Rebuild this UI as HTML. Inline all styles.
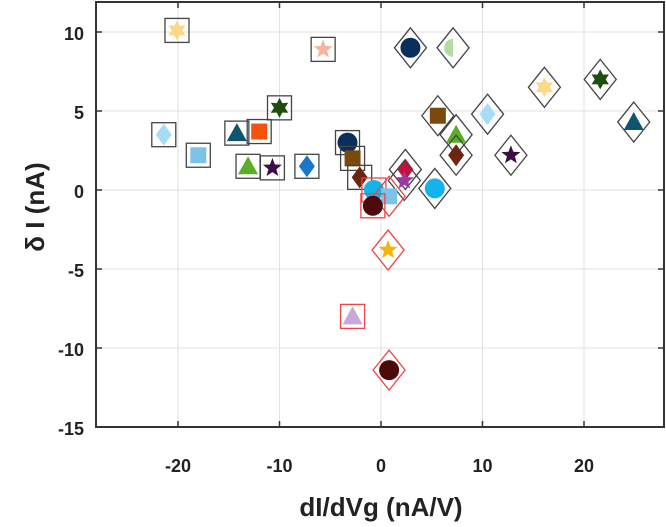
<!DOCTYPE html>
<html><head><meta charset="utf-8"><style>
html,body{margin:0;padding:0;background:#fff;}
svg{display:block;font-family:"Liberation Sans",sans-serif;}
</style></head><body>
<svg id="chart" width="666" height="527" viewBox="0 0 666 527"></svg>
<script>
const xTicks=[-20,-10,0,10,20];
const yTicks=[10,5,0,-5,-10,-15];
const xs=[-20.1,-5.7,2.9,7.1,16.1,21.6,-10.0,24.9,-21.4,-14.2,-12.0,10.5,5.6,-18.0,-13.1,-10.7,-7.3,-3.3,-2.8,-2.1,7.4,7.4,12.8,2.4,2.3,5.3,-0.7,0.8,-0.8,0.7,-2.8,0.8];
const ys=[10.1,8.9,9.0,9.0,6.5,7.0,5.2,4.3,3.5,3.6,3.7,4.8,4.7,2.2,1.5,1.4,1.5,3.0,2.0,0.8,3.5,2.2,2.2,1.3,0.6,0.1,0.0,-0.4,-1.0,-3.8,-8.0,-11.4];
const shapes=['hex','star','circle','half','hex','hex','hex','tri','diamond','tri','square','diamond','square','square','tri','star','diamond','circle','square','diamond','tri','diamond','star','diamond','star','circle','circle','square','circle','star','tri','circle'];
const colors=['#fcd98a','#f7b49e','#0a2f5c','#b5dba0','#fcd98a','#1f4d0e','#1f4d0e','#0d5570','#a6dcf5','#0d5570','#f5520c','#a6dcf5','#7a4a0c','#7dc3e8','#5aad28','#3d0e45','#1877c8','#0a2f5c','#7a4a0c','#6e2410','#5aad28','#6e2410','#3d0e45','#c8103a','#9a3aa0','#12b4ea','#12b4ea','#7dc3e8','#4d0a0a','#f5b50c','#c8a8d8','#4d0a0a'];
const boxes=['sq','sq','dm','dm','dm','dm','sq','dm','sq','sq','sq','dm','dm','sq','sq','sq','sq','sq','sq','sq','dm','dm','dm','dm','dm','dm','rsq','rdm','rsq','rdm','rsq','rdm'];

const L=96,R=664,T=2,B=427;
const X=v=>381+v*10.15;
const Y=v=>190-v*15.8;
const svg=document.getElementById('chart');
const NS='http://www.w3.org/2000/svg';
function mk(t,a,p){const e=document.createElementNS(NS,t);for(const k in a)e.setAttribute(k,a[k]);(p||svg).appendChild(e);return e;}

const grid=mk('g',{});


xTicks.forEach(v=>{mk('line',{x1:X(v),x2:X(v),y1:T,y2:B,stroke:'#e2e2e2','stroke-width':1},grid);});
yTicks.forEach(v=>{mk('line',{x1:L,x2:R,y1:Y(v),y2:Y(v),stroke:'#e2e2e2','stroke-width':1},grid);});

const ticks=mk('g',{stroke:'#333','stroke-width':1.5});


xTicks.forEach(v=>{mk('line',{x1:X(v),x2:X(v),y1:B,y2:B-6},ticks);mk('line',{x1:X(v),x2:X(v),y1:T,y2:T+6},ticks);});
yTicks.forEach(v=>{mk('line',{x1:L,x2:L+6,y1:Y(v),y2:Y(v)},ticks);mk('line',{x1:R,x2:R-6,y1:Y(v),y2:Y(v)},ticks);});

function starPts(cx,cy,ro,ri,n){let p=[];for(let i=0;i<2*n;i++){const a=-Math.PI/2+i*Math.PI/n;const r=i%2?ri:ro;p.push((cx+r*Math.cos(a)).toFixed(1)+','+(cy+r*Math.sin(a)).toFixed(1));}return p.join(' ');}

const pts=mk('g',{});


for(let i=0;i<xs.length;i++){
  const cx=X(xs[i]),cy=Y(ys[i]),c=colors[i];
  const g=mk('g',{},pts);
  
  
  const b=boxes[i];const bc=b[0]==='r'?'#ee4444':'#444';
  if(b.endsWith('sq')) mk('rect',{x:cx-12,y:cy-12,width:24,height:24,fill:'none',stroke:bc,'stroke-width':1.3},g);
  else mk('polygon',{points:`${cx},${cy-20} ${cx+16},${cy} ${cx},${cy+20} ${cx-16},${cy}`,fill:'none',stroke:bc,'stroke-width':1.3},g);
  const s=shapes[i];
  if(s==='circle') mk('circle',{cx,cy,r:10,fill:c},g);
  else if(s==='square') mk('rect',{x:cx-8,y:cy-8,width:16,height:16,fill:c},g);
  else if(s==='diamond') mk('polygon',{points:`${cx},${cy-11} ${cx+8},${cy} ${cx},${cy+11} ${cx-8},${cy}`,fill:c},g);
  else if(s==='tri') mk('polygon',{points:`${cx},${cy-10} ${cx+10},${cy+8} ${cx-10},${cy+8}`,fill:c},g);
  else if(s==='star') mk('polygon',{points:starPts(cx,cy,10,4.2,5),fill:c},g);
  else if(s==='hex') mk('polygon',{points:starPts(cx,cy,10,5.5,6),fill:c},g);
  else if(s==='half') mk('path',{d:`M${cx},${cy-9} A9,9 0 0 0 ${cx},${cy+9} Z`,fill:c},g);
}

const frame=mk('rect',{x:L,y:T,width:R-L,height:B-T,fill:'none',stroke:'#333','stroke-width':2});



const xl=mk('g',{'font-size':18,'font-weight':'bold',fill:'#222','text-anchor':'middle'});


xTicks.forEach(v=>{const t=mk('text',{x:X(v),y:472},xl);t.textContent=v;});
const yl=mk('g',{'font-size':18,'font-weight':'bold',fill:'#222','text-anchor':'end'});


yTicks.forEach(v=>{const t=mk('text',{x:84,y:Y(v)+8},yl);t.textContent=v;});

const xt=mk('text',{x:381,y:516,'font-size':26,'font-weight':'bold',fill:'#222','text-anchor':'middle'});
xt.textContent='dI/dVg (nA/V)';


const yt=mk('text',{x:0,y:0,'font-size':26,'font-weight':'bold',fill:'#222','text-anchor':'middle',transform:'translate(44,207) rotate(-90)'});
yt.textContent='δ I (nA)';


</script>
</body></html>
